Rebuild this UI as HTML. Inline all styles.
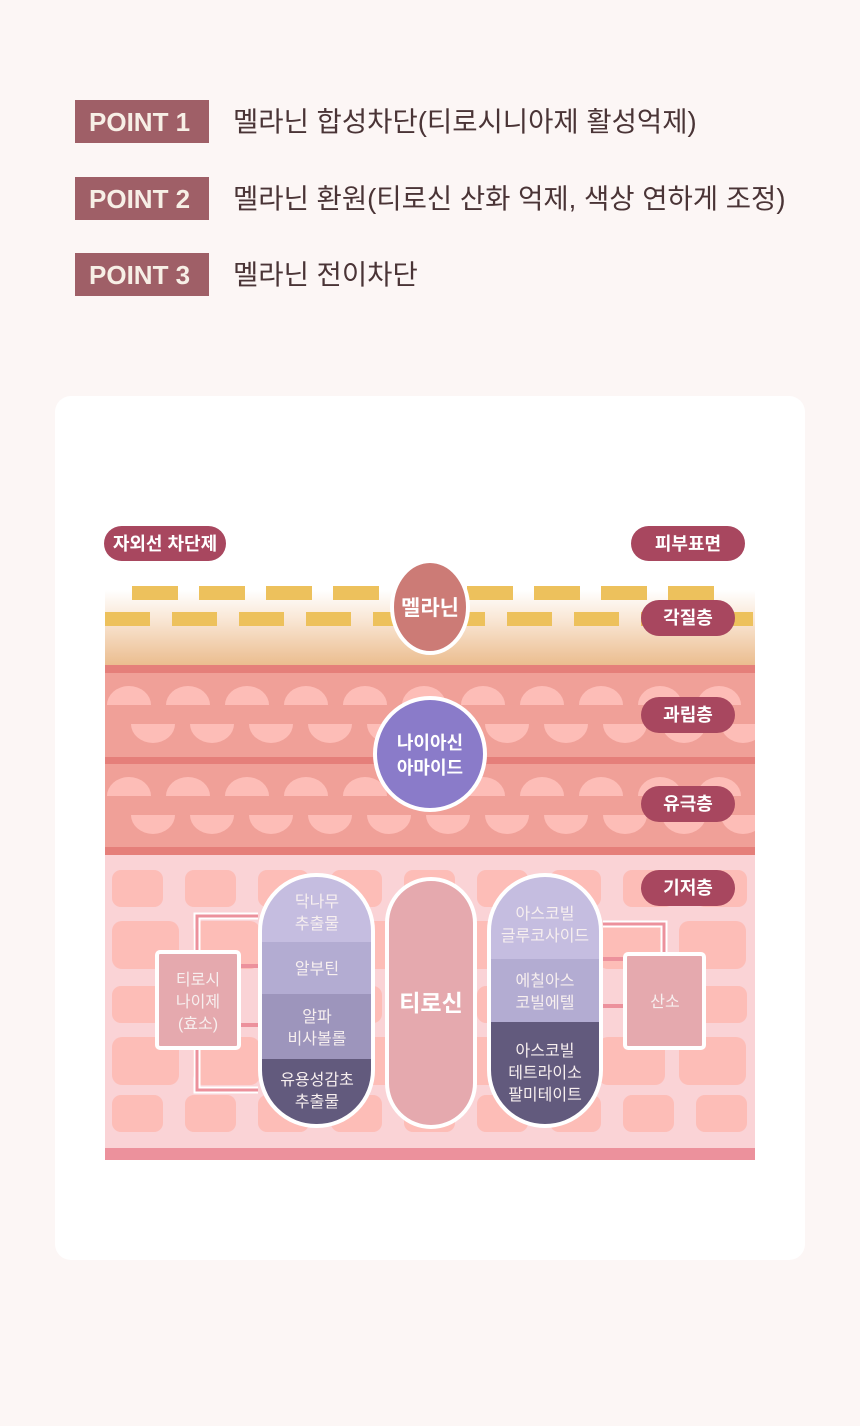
<!DOCTYPE html>
<html><head><meta charset="utf-8">
<style>
html,body{margin:0;padding:0;background:#fcf6f5;}
body{width:860px;height:1421px;position:relative;overflow:hidden;font-family:"Liberation Sans","Noto Sans CJK KR",sans-serif;}
svg text{font-family:"Liberation Sans","Noto Sans CJK KR",sans-serif;}
</style></head>
<body>
<svg id="s" width="860" height="1421" viewBox="0 0 860 1421" xmlns="http://www.w3.org/2000/svg">
<defs>
<linearGradient id="sc" x1="0" y1="0" x2="0" y2="1">
<stop offset="0" stop-color="#ffffff"/><stop offset="0.4" stop-color="#f9e6d4"/><stop offset="1" stop-color="#ebbd8f"/>
</linearGradient>
<clipPath id="cl"><rect x="260" y="875" width="113" height="251" rx="56"/></clipPath>
<clipPath id="cr"><rect x="489" y="875" width="112" height="251" rx="56"/></clipPath>
<clipPath id="box"><rect x="105" y="560" width="650" height="600"/></clipPath>
</defs>
<rect width="860" height="1421" fill="#fcf6f5"/>
<g font-size="26" fill="#f7efe6" font-weight="bold">
<rect x="75" y="100" width="134" height="43" fill="#9f5f67"/><text x="89" y="131" fill="#f7efe6">POINT 1</text>
<rect x="75" y="177" width="134" height="43" fill="#9f5f67"/><text x="89" y="208" fill="#f7efe6">POINT 2</text>
<rect x="75" y="253" width="134" height="43" fill="#9f5f67"/><text x="89" y="284" fill="#f7efe6">POINT 3</text>
</g>
<g font-size="27.5" fill="#4a3436">
<text x="233" y="131">멜라닌 합성차단(티로시니아제 활성억제)</text>
<text x="233" y="208">멜라닌 환원(티로신 산화 억제, 색상 연하게 조정)</text>
<text x="233" y="284">멜라닌 전이차단</text>
</g>
<rect x="55" y="396" width="750" height="864" rx="16" fill="#ffffff"/>
<g clip-path="url(#box)">
<rect x="105" y="590" width="650" height="75" fill="url(#sc)"/>
<g id="dash" fill="#edc15c"></g>
<rect x="105" y="665" width="650" height="8" fill="#e57f7a"/>
<rect x="105" y="673" width="650" height="84" fill="#f0a098"/>
<rect x="105" y="757" width="650" height="7" fill="#e57f7a"/>
<rect x="105" y="764" width="650" height="83" fill="#f0a098"/>
<rect x="105" y="847" width="650" height="8" fill="#e57f7a"/>
<g id="domes" fill="#fdbdb7"></g>
<rect x="105" y="855" width="650" height="293" fill="#fad3d6"/>
<g id="cells" fill="#fdbdb7"></g>
<rect x="105" y="1148" width="650" height="12" fill="#ec919c"/>
</g>
<g fill="none">
<path d="M258 916 H197 V1090 H258" stroke="#fff" stroke-width="7"/>
<path d="M258 916 H197 V1090 H258" stroke="#ec919c" stroke-width="3"/>
<path d="M241 966 H258 M241 1025 H258" stroke="#ec919c" stroke-width="4"/>
<path d="M603 924 H664 V952" stroke="#fff" stroke-width="7"/>
<path d="M603 924 H664 V952" stroke="#ec919c" stroke-width="3"/>
<path d="M603 959 H623 M603 1006 H623" stroke="#ec919c" stroke-width="4"/>
</g>
<g clip-path="url(#cl)">
<rect x="258" y="873" width="120" height="70" fill="#c5bde0"/>
<rect x="258" y="942" width="120" height="53" fill="#b3acd2"/>
<rect x="258" y="994" width="120" height="66" fill="#9d95bc"/>
<rect x="258" y="1059" width="120" height="70" fill="#625a7d"/>
</g>
<rect x="260" y="875" width="113" height="251" rx="56" fill="none" stroke="#fff" stroke-width="4"/>
<rect x="387" y="879" width="88" height="248" rx="44" fill="#e5a9ae" stroke="#fff" stroke-width="4"/>
<g clip-path="url(#cr)">
<rect x="487" y="873" width="120" height="87" fill="#c5bde0"/>
<rect x="487" y="959" width="120" height="64" fill="#b3acd2"/>
<rect x="487" y="1022" width="120" height="107" fill="#625a7d"/>
</g>
<rect x="489" y="875" width="112" height="251" rx="56" fill="none" stroke="#fff" stroke-width="4"/>
<rect x="157" y="952" width="82" height="96" rx="3" fill="#e5a9ae" stroke="#fff" stroke-width="4"/>
<rect x="625" y="954" width="79" height="94" rx="3" fill="#e5a9ae" stroke="#fff" stroke-width="4"/>
<g font-size="16" fill="#f7efef" text-anchor="middle">
<text x="317" y="907">닥나무</text><text x="317" y="929">추출물</text>
<text x="317" y="974">알부틴</text>
<text x="317" y="1022">알파</text><text x="317" y="1044">비사볼롤</text>
<text x="317" y="1085">유용성감초</text><text x="317" y="1107">추출물</text>
<text x="545" y="919">아스코빌</text><text x="545" y="941">글루코사이드</text>
<text x="545" y="986">에칠아스</text><text x="545" y="1008">코빌에텔</text>
<text x="545" y="1056">아스코빌</text><text x="545" y="1078">테트라이소</text><text x="545" y="1100">팔미테이트</text>
<text x="198" y="985">티로시</text><text x="198" y="1007">나이제</text><text x="198" y="1029">(효소)</text>
<text x="665" y="1007">산소</text>
</g>
<text x="431" y="1011" font-size="23" font-weight="bold" fill="#fff" text-anchor="middle">티로신</text>
<ellipse cx="430" cy="607" rx="38" ry="46" fill="#cc7b76" stroke="#fff" stroke-width="4"/>
<text x="430" y="615" font-size="21" font-weight="bold" fill="#fff" text-anchor="middle">멜라닌</text>
<ellipse cx="430" cy="754" rx="55" ry="56" fill="#8a7bc9" stroke="#fff" stroke-width="4"/>
<text x="430" y="749" font-size="18" font-weight="bold" fill="#fff" text-anchor="middle">나이아신</text>
<text x="430" y="774" font-size="18" font-weight="bold" fill="#fff" text-anchor="middle">아마이드</text>
<g fill="#a8475f">
<rect x="104" y="526" width="122" height="35" rx="17.5"/>
<rect x="631" y="526" width="114" height="35" rx="17.5"/>
<rect x="641" y="600" width="94" height="36" rx="18"/>
<rect x="641" y="697" width="94" height="36" rx="18"/>
<rect x="641" y="786" width="94" height="36" rx="18"/>
<rect x="641" y="870" width="94" height="36" rx="18"/>
</g>
<g font-size="18" font-weight="bold" fill="#fff" text-anchor="middle">
<text x="165" y="550">자외선 차단제</text>
<text x="688" y="550">피부표면</text>
<text x="688" y="624">각질층</text>
<text x="688" y="721">과립층</text>
<text x="688" y="810">유극층</text>
<text x="688" y="894">기저층</text>
</g>
</svg>
<script>
var NS="http://www.w3.org/2000/svg";
function add(g,tag,a){var e=document.createElementNS(NS,tag);for(var k in a)e.setAttribute(k,a[k]);document.getElementById(g).appendChild(e);}
for(var x=132;x<720;x+=67){add("dash","rect",{x:x,y:586,width:46,height:14});}
for(var x=105;x<755;x+=67){add("dash","rect",{x:x,y:612,width:45,height:14});}
function dome(cx,y){add("domes","path",{d:"M"+(cx-22)+" "+(y+19)+" A22 19 0 0 1 "+(cx+22)+" "+(y+19)+" Z"});}
function bowl(cx,y){add("domes","path",{d:"M"+(cx-22)+" "+y+" A22 19 0 0 0 "+(cx+22)+" "+y+" Z"});}
[0,91].forEach(function(o){
for(var c=129;c<770;c+=59){dome(c,686+o);}
for(var c=153;c<770;c+=59){bowl(c,724+o);}
});
var narrow=[870,986,1095],wide=[921,1037];
narrow.forEach(function(y){for(var x=112;x<750;x+=73)add("cells","rect",{x:x,y:y,width:51,height:37,rx:9});});
wide.forEach(function(y){for(var x=112;x<750;x+=81)add("cells","rect",{x:x,y:y,width:67,height:48,rx:10});});
</script>
</body></html>
